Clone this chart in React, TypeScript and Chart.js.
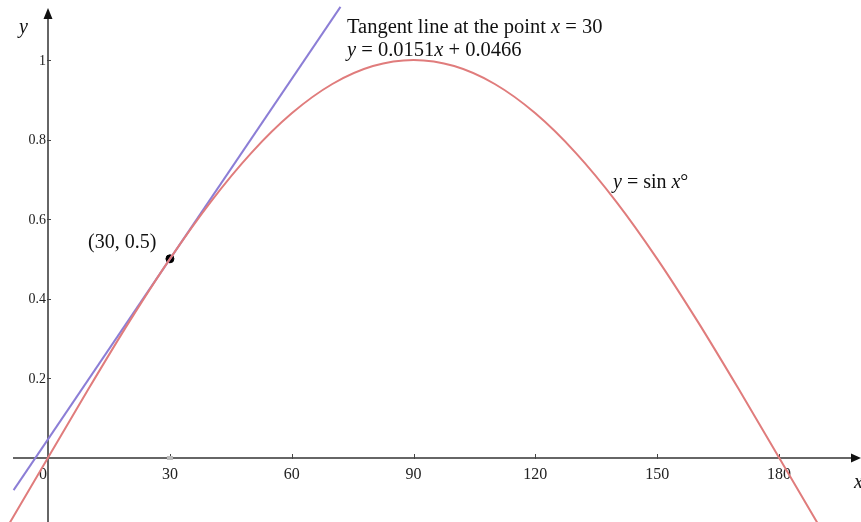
import React, { useEffect, useRef } from "react";
import { Chart, registerables } from "chart.js";

Chart.register(...registerables);

// Sine curve y = sin x° (sampled every 10 degrees)
const sineX = [-10, 0, 10, 20, 30, 40, 50, 60, 70, 80, 90, 100, 110, 120, 130, 140, 150, 160, 170, 180, 190];
const sineY = [-0.1736, 0, 0.1736, 0.342, 0.5, 0.6428, 0.766, 0.866, 0.9397, 0.9848, 1, 0.9848, 0.9397, 0.866, 0.766, 0.6428, 0.5, 0.342, 0.1736, 0, -0.1736];

// Tangent line y = 0.0151x + 0.0466
const tangentX = [-8.5, 72];
const tangentY = [-0.0818, 1.1338];

// Point of tangency
const pointX = [30];
const pointY = [0.5];

// Axis ticks
const xTicks = [0, 30, 60, 90, 120, 150, 180];
const xTickLabels = ["0", "30", "60", "90", "120", "150", "180"];
const yTicks = [0.2, 0.4, 0.6, 0.8, 1];
const yTickLabels = ["0.2", "0.4", "0.6", "0.8", "1"];

const SINE_COLOR = "#e07c7c";
const TANGENT_COLOR = "#8c7ed6";
const AXIS_COLOR = "#666666";
const SERIF = '"Liberation Serif", "Times New Roman", serif';

type Seg = [string, boolean];

function drawRich(ctx: CanvasRenderingContext2D, segs: Seg[], x: number, y: number, size: number) {
  let cx = x;
  for (const [t, it] of segs) {
    ctx.font = `${it ? "italic " : ""}${size}px ${SERIF}`;
    ctx.fillText(t, cx, y);
    cx += ctx.measureText(t).width;
  }
}

const axesPlugin = {
  id: "mathAxes",
  beforeDatasetsDraw(chart: any) {
    const ctx: CanvasRenderingContext2D = chart.ctx;
    const xs = chart.scales.x;
    const ys = chart.scales.y;
    const x0 = Math.round(xs.getPixelForValue(0));
    const y0 = Math.round(ys.getPixelForValue(0));
    const W = chart.width;
    const H = chart.height;
    ctx.save();
    ctx.strokeStyle = AXIS_COLOR;
    ctx.lineWidth = 2;
    // x axis
    ctx.beginPath();
    ctx.moveTo(13, y0);
    ctx.lineTo(W - 8, y0);
    ctx.stroke();
    ctx.fillStyle = "#111";
    ctx.beginPath();
    ctx.moveTo(W, y0);
    ctx.lineTo(W - 10, y0 - 4.5);
    ctx.lineTo(W - 10, y0 + 4.5);
    ctx.closePath();
    ctx.fill();
    // y axis
    ctx.strokeStyle = AXIS_COLOR;
    ctx.beginPath();
    ctx.moveTo(x0, H);
    ctx.lineTo(x0, 16);
    ctx.stroke();
    ctx.fillStyle = "#111";
    ctx.beginPath();
    ctx.moveTo(x0, 8);
    ctx.lineTo(x0 - 4.5, 19);
    ctx.lineTo(x0 + 4.5, 19);
    ctx.closePath();
    ctx.fill();

    // ticks
    ctx.strokeStyle = "#444";
    ctx.lineWidth = 1;
    xTicks.forEach((v) => {
      if (v === 0) return;
      const px = Math.round(xs.getPixelForValue(v)) + 0.5;
      ctx.beginPath();
      ctx.moveTo(px, y0 - 4);
      ctx.lineTo(px, y0 + 1);
      ctx.stroke();
    });
    yTicks.forEach((v) => {
      const py = Math.round(ys.getPixelForValue(v)) + 0.5;
      ctx.beginPath();
      ctx.moveTo(x0 - 1, py);
      ctx.lineTo(x0 + 3, py);
      ctx.stroke();
    });
    // light marker at x = 30 on the axis
    ctx.fillStyle = "#bbbbbb";
    const p30 = xs.getPixelForValue(30);
    ctx.fillRect(p30 - 3, y0 - 2, 6, 4);

    // tick labels
    ctx.fillStyle = "#222";
    ctx.font = `16px ${SERIF}`;
    ctx.textBaseline = "alphabetic";
    ctx.textAlign = "center";
    xTicks.forEach((v, i) => {
      const px = xs.getPixelForValue(v);
      ctx.fillText(xTickLabels[i], v === 0 ? px - 5 : px, y0 + 21);
    });
    ctx.font = `14px ${SERIF}`;
    ctx.textAlign = "right";
    ctx.textBaseline = "middle";
    yTicks.forEach((v, i) => {
      const py = ys.getPixelForValue(v);
      ctx.fillText(yTickLabels[i], x0 - 2, py + 1);
    });
    ctx.restore();
  },
  afterDatasetsDraw(chart: any) {
    const ctx: CanvasRenderingContext2D = chart.ctx;
    ctx.save();
    ctx.fillStyle = "#111";
    ctx.textAlign = "left";
    ctx.textBaseline = "alphabetic";
    // axis titles
    drawRich(ctx, [["y", true]], 19, 33, 20);
    drawRich(ctx, [["x", true]], 854, 488, 20);
    // annotations
    drawRich(ctx, [["Tangent line at the point ", false], ["x", true], [" = 30", false]], 347, 33, 20.5);
    drawRich(ctx, [["y", true], [" = 0.0151", false], ["x", true], [" + 0.0466", false]], 347, 56, 20.5);
    drawRich(ctx, [["(30, 0.5)", false]], 88, 248, 20);
    drawRich(ctx, [["y", true], [" = sin ", false], ["x", true], ["°", false]], 613, 188, 20);
    ctx.restore();
  },
};

export default function App() {
  const canvasRef = useRef<HTMLCanvasElement | null>(null);

  useEffect(() => {
    if (!canvasRef.current) return;
    const chart = new Chart(canvasRef.current, {
      type: "scatter",
      data: {
        datasets: [
          {
            label: "y = sin x°",
            data: sineX.map((x, i) => ({ x, y: sineY[i] })),
            showLine: true,
            borderColor: SINE_COLOR,
            borderWidth: 2,
            pointRadius: 0,
            cubicInterpolationMode: "monotone",
            fill: false,
          },
          {
            label: "Tangent",
            data: tangentX.map((x, i) => ({ x, y: tangentY[i] })),
            showLine: true,
            borderColor: TANGENT_COLOR,
            borderWidth: 2,
            pointRadius: 0,
            fill: false,
          },
          {
            label: "Point",
            data: pointX.map((x, i) => ({ x, y: pointY[i] })),
            showLine: false,
            pointRadius: 4,
            pointBackgroundColor: "#000",
            pointBorderColor: "#000",
          },
        ],
      },
      options: {
        animation: false,
        responsive: false,
        layout: { padding: 0, autoPadding: false },
        plugins: {
          legend: { display: false },
          tooltip: { enabled: false },
          title: { display: false },
        },
        scales: {
          x: { type: "linear", min: -11.85, max: 200.2, display: false },
          y: { type: "linear", min: -0.162, max: 1.151, display: false },
        },
      },
      plugins: [axesPlugin],
    });
    return () => chart.destroy();
  }, []);

  return (
    <div style={{ position: "absolute", left: 0, top: 0, width: 861, height: 522, background: "#fff" }}>
      <canvas ref={canvasRef} width={861} height={522} />
    </div>
  );
}
